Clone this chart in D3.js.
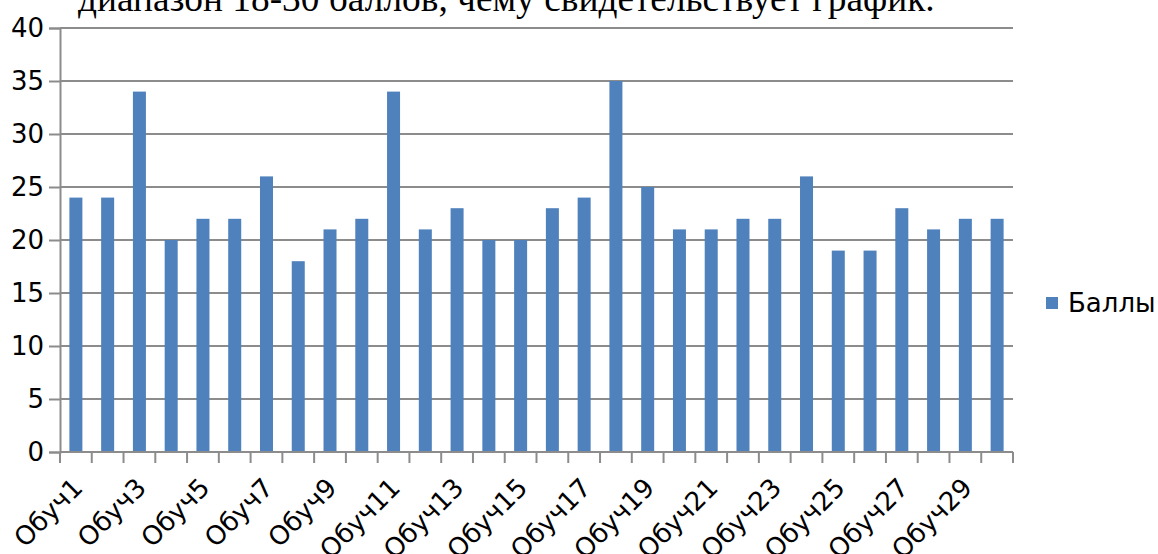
<!DOCTYPE html>
<html>
<head>
<meta charset="utf-8">
<script src="https://cdn.jsdelivr.net/npm/d3@7"></script>
<style>
  body { margin: 0; background: #fff; }
  svg { display: block; }
</style>
</head>
<body>
<div id="chart"></div>
<script>
// data
var categories = [];
for (var i = 1; i <= 30; i++) categories.push("Обуч" + i);
var scores = [24, 24, 34, 20, 22, 22, 26, 18, 21, 22,
              34, 21, 23, 20, 20, 23, 24, 35, 25, 21,
              21, 22, 22, 26, 19, 19, 23, 21, 22, 22];
var yTicks = [0, 5, 10, 15, 20, 25, 30, 35, 40];
var seriesName = "Баллы";
var caption = "диапазон 18-30 баллов, чему свидетельствует график.";

var W = 1158, H = 554;
var margin = {top: 28, left: 60, right: 145, bottom: 102};
var width = W - margin.left - margin.right,
    height = H - margin.top - margin.bottom;
var fontSize = "26px";

var svg = d3.select("#chart").append("svg")
  .attr("width", W)
  .attr("height", H);

// caption line above the chart, cut off at the top like in the source
var cap = svg.append("text")
  .attr("x", 78)
  .attr("y", 11)
  .style("font-family", "'Liberation Serif', 'Times New Roman', serif")
  .style("font-size", "30px")
  .attr("fill", "#000")
  .text(caption);
var capLen = cap.node().getComputedTextLength();
cap.style("font-size", (30 * 857 / capLen) + "px");

var x = d3.scaleBand().domain(categories).range([0, width]).padding(0);
var y = d3.scaleLinear().domain([0, 40]).range([height, 0]);

var g = svg.append("g")
  .attr("transform", "translate(" + margin.left + "," + margin.top + ")");

// gridlines
g.selectAll(".grid")
  .data(yTicks)
  .enter()
  .append("line")
  .attr("class", "grid")
  .attr("x1", 0)
  .attr("x2", width)
  .attr("y1", function(d){ return y(d); })
  .attr("y2", function(d){ return y(d); })
  .attr("stroke", "#8c8c8c")
  .attr("stroke-width", 2);

// y axis
var yAxis = g.append("g")
  .call(d3.axisLeft(y).tickValues(yTicks).tickSize(11).tickPadding(5));
yAxis.select(".domain").attr("stroke", "#8c8c8c").attr("stroke-width", 2);
yAxis.selectAll(".tick line").attr("stroke", "#8c8c8c").attr("stroke-width", 2);
yAxis.selectAll(".tick text")
  .style("font-family", "'DejaVu Sans', sans-serif")
  .style("font-size", fontSize)
  .attr("fill", "#000");

// bars
var barW = 13;
g.selectAll(".bar")
  .data(scores)
  .enter()
  .append("rect")
  .attr("class", "bar")
  .attr("x", function(d, i){ return x(categories[i]) + x.bandwidth() / 2 - barW / 2; })
  .attr("y", function(d){ return y(d); })
  .attr("width", barW)
  .attr("height", function(d){ return height - y(d); })
  .attr("fill", "#4F81BD");

// x axis line and ticks at band boundaries
var xa = g.append("g").attr("transform", "translate(0," + height + ")");
xa.append("line")
  .attr("x1", 0).attr("x2", width)
  .attr("stroke", "#8c8c8c").attr("stroke-width", 2);
var bounds = categories.map(function(c){ return x(c); }).concat([width]);
xa.selectAll(".xtick")
  .data(bounds)
  .enter()
  .append("line")
  .attr("x1", function(d){ return d; })
  .attr("x2", function(d){ return d; })
  .attr("y1", 0)
  .attr("y2", 11)
  .attr("stroke", "#8c8c8c")
  .attr("stroke-width", 2);

// every other category label, rotated
xa.selectAll(".xlab")
  .data(categories.filter(function(d, i){ return i % 2 == 0; }))
  .enter()
  .append("text")
  .attr("class", "xlab")
  .attr("transform", function(d){
    return "translate(" + (x(d) + x.bandwidth() / 2 - 5) + ",24) rotate(-45)";
  })
  .attr("text-anchor", "end")
  .attr("dy", "0.72em")
  .style("font-family", "'DejaVu Sans', sans-serif")
  .style("font-size", fontSize)
  .attr("fill", "#000")
  .text(function(d){ return d; });

// legend
var leg = svg.append("g").attr("transform", "translate(1046,297)");
leg.append("rect")
  .attr("width", 12).attr("height", 12)
  .attr("fill", "#4F81BD");
leg.append("text")
  .attr("x", 22)
  .attr("y", 15)
  .style("font-family", "'DejaVu Sans', sans-serif")
  .style("font-size", fontSize)
  .attr("fill", "#000")
  .text(seriesName);
</script>
</body>
</html>
